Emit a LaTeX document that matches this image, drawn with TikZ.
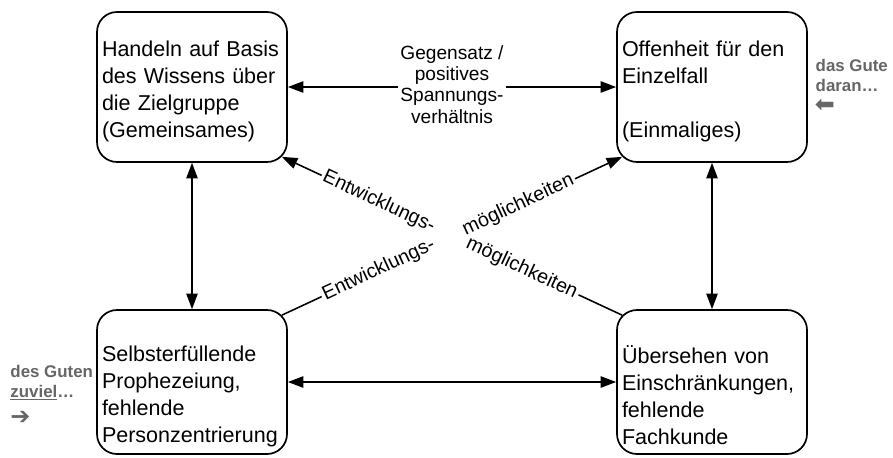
\documentclass[tikz,border=0pt]{standalone}
\usepackage{fontspec}
\setmainfont{Liberation Sans}
\newfontfamily\arrowfont{DejaVu Sans}
\usetikzlibrary{arrows.meta}

\begin{document}
\begin{tikzpicture}[>={Triangle[length=11pt,width=8pt]},
  box/.style={draw,line width=1.2pt,rounded corners=0.5cm,text width=4.5cm,inner xsep=0.125cm,
    align=left,font=\fontsize{15.3}{19.2}\selectfont},
  lbl/.style={inner sep=1.5pt,font=\fontsize{14}{15}\selectfont},
  note/.style={inner sep=1pt,align=left,text=black!60,font=\fontsize{12}{14.2}\selectfont\bfseries},
  pfeil/.style={note,font=\fontsize{17}{17}\selectfont\arrowfont},
  conn/.style={line width=1.1pt}]
  \useasboundingbox (0,0) rectangle (22.325,11.425);
  \node[box,minimum height=3.75cm] (handeln) at (4.8,9.25) {\rule{0pt}{0.6cm}Handeln auf Basis\\des Wissens über\\die Zielgruppe\\(Gemeinsames)};
  \node[box,minimum height=3.75cm] (offenheit) at (17.8,9.25) {\rule{0pt}{0.6cm}Offenheit für den\\Einzelfall\\[19.2pt](Einmaliges)};
  \node[box,minimum height=3.6cm] (selbst) at (4.8,1.875) {\rule{0pt}{1.1cm}Selbsterfüllende\\Prophezeiung,\\fehlende\\Personzentrierung};
  \node[box,minimum height=3.6cm] (uebersehen) at (17.8,1.875) {\rule{0pt}{1.1cm}Übersehen von\\Einschränkungen,\\fehlende\\Fachkunde};
  \draw[conn,<->] (handeln) -- node[lbl,fill=white,align=center,yshift=0.06cm,font=\fontsize{13.6}{15}\selectfont] (gegensatz) {Gegensatz /\\positives\\Spannungs-\\verhältnis} (offenheit);
  \draw[conn,<->] (handeln) -- (selbst);
  \draw[conn,<->] (offenheit) -- (uebersehen);
  \draw[conn,<->] (selbst) -- (uebersehen);
  \coordinate (aH) at ([shift={(-0.15,0.15)}]handeln.south east);
  \coordinate (aU) at ([shift={(0.15,-0.15)}]uebersehen.north west);
  \coordinate (aS) at ([shift={(-0.15,-0.15)}]selbst.north east);
  \coordinate (aO) at ([shift={(0.15,0.15)}]offenheit.south west);
  \path (aH) -- (aU) node[lbl,sloped,pos=0.285] (entw1) {Entwicklungs-} node[lbl,sloped,pos=0.705] (moegl1) {möglichkeiten};
  \path (aS) -- (aO) node[lbl,sloped,pos=0.285] (entw2) {Entwicklungs-} node[lbl,sloped,pos=0.695] (moegl2) {möglichkeiten};
  \draw[conn,->] (entw1) -- (aH);
  \draw[conn] (moegl1) -- (aU);
  \draw[conn] (aS) -- (entw2);
  \draw[conn,->] (moegl2) -- (aO);
  \node[note,anchor=west] (daran) at (20.35,9.55) {das Gute\\daran…};
  \node[pfeil,anchor=west] (pfeilL) at (20.33,8.78) {⬅};
  \node[note,anchor=west] (zuviel) at (0.22,1.85) {des Guten\\\underline{zuviel}…};
  \node[pfeil,anchor=west] (pfeilR) at (0.22,0.97) {➔};
\end{tikzpicture}
\end{document}
